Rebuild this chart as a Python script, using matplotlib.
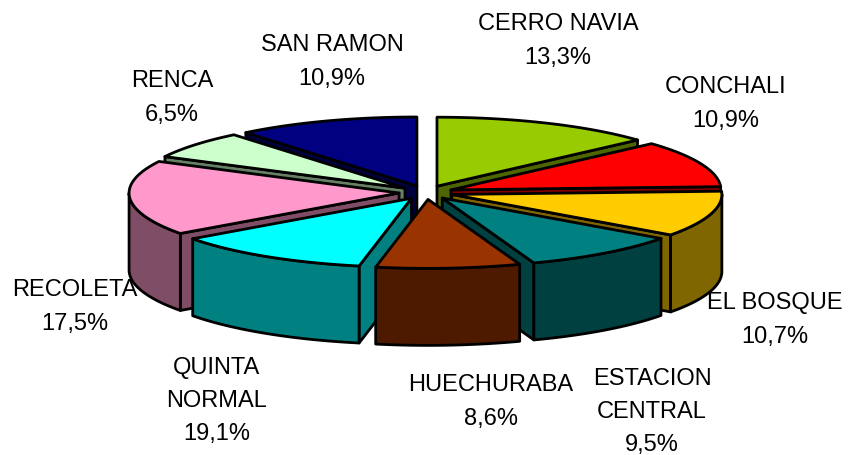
import numpy as np
import matplotlib
matplotlib.use('Agg')
import matplotlib.pyplot as plt
from matplotlib.colors import to_rgb
from matplotlib.patches import Polygon

# Slice sizes (the printed label of QUINTA NORMAL differs from its drawn size)
names = ['CERRO NAVIA', 'CONCHALI', 'EL BOSQUE', 'ESTACION\nCENTRAL', 'HUECHURABA',
         'QUINTA\nNORMAL', 'RECOLETA', 'RENCA', 'SAN RAMON']
values = [13.3, 10.9, 10.7, 9.5, 8.6, 11.9, 17.5, 6.5, 10.9]
printed = ['13,3%', '10,9%', '10,7%', '9,5%', '8,6%', '19,1%', '17,5%', '6,5%', '10,9%']
colors = ['#99CC00', '#FF0000', '#FFCC00', '#008080', '#993300',
          '#00FFFF', '#FF99CC', '#CCFFCC', '#000080']

# layout in pixels
CX, CY = 426, 192.5
RX, RY = 270, 69
DEPTH = 77
EXPLODE = 0.1
label_pos = [(558, 41), (726, 104), (775, 320), (652, 412), (491, 402),
             (217, 401), (75, 307), (172, 98), (332, 62)]


def rim(apex, t):
    return apex[0] + RX * np.sin(t), apex[1] - RY * np.cos(t)


def wall(pts, color, ax):
    top = np.array(pts)
    low = top[::-1] + [0, DEPTH]
    ax.add_patch(Polygon(np.vstack([top, low]), closed=True, fc=color, ec='black',
                         lw=2, joinstyle='round'))


fig = plt.figure(figsize=(8.48, 4.55), dpi=100)
ax = fig.add_axes([0, 0, 1, 1])
ax.set_xlim(0, 848)
ax.set_ylim(455, 0)
ax.axis('off')

edges = np.cumsum([0] + values) / sum(values) * 2 * np.pi
mids = (edges[:-1] + edges[1:]) / 2

# back slices first
order = sorted(range(len(values)), key=lambda i: -abs(mids[i] - np.pi))
for i in order:
    t1, t2 = edges[i], edges[i + 1]
    apex = (CX + EXPLODE * RX * np.sin(mids[i]), CY - EXPLODE * RY * np.cos(mids[i]))
    side = tuple(c * 0.5 for c in to_rgb(colors[i]))

    if t2 < np.pi:
        wall([apex, rim(apex, t2)], side, ax)
    if t1 > np.pi:
        wall([apex, rim(apex, t1)], side, ax)

    a, b = max(t1, np.pi / 2), min(t2, 3 * np.pi / 2)
    if a < b:
        ts = np.linspace(a, b, 60)
        wall([rim(apex, t) for t in ts], side, ax)

    ts = np.linspace(t1, t2, 80)
    ax.add_patch(Polygon([apex] + [rim(apex, t) for t in ts], closed=True,
                         fc=colors[i], ec='black', lw=2, joinstyle='round'))

for name, pct, (x, y) in zip(names, printed, label_pos):
    ax.text(x, y, name + '\n' + pct, ha='center', va='center', fontsize=17,
            family='Liberation Sans', linespacing=1.65, color='black')

fig.savefig('out.png', dpi=100)
